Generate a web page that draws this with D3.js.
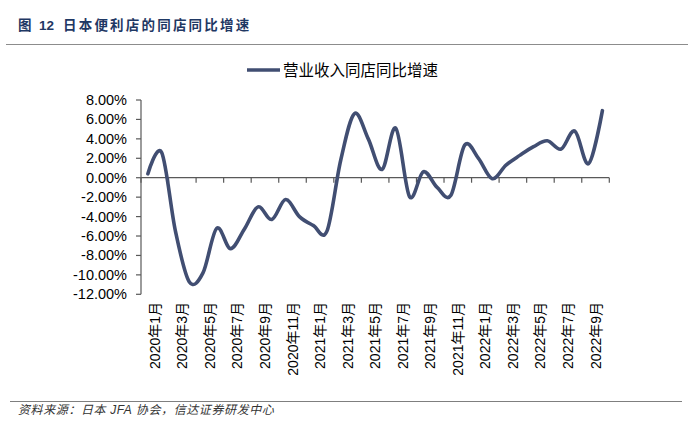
<!DOCTYPE html>
<html>
<head>
<meta charset="utf-8">
<script src="https://cdn.jsdelivr.net/npm/d3@7/dist/d3.min.js"></script>
<style>
  body { margin: 0; background: #fff; }
  svg { display: block; }
  text { font-family: "Liberation Sans", Arial, "Noto Sans CJK SC", sans-serif; }
</style>
</head>
<body>
<svg id="chart" width="694" height="434"></svg>
<script>
// months 2020-01 .. 2022-10
var months = [];
[2020, 2021, 2022].forEach(function (y) {
    for (var m = 1; m <= 12; m++) {
        if (y === 2022 && m > 10) { break; }
        months.push(y + "年" + m + "月");
    }
});

// 营业收入同店同比增速 (%)
var growth = [
    0.4, 2.6, -5.5, -10.7, -9.8, -5.2, -7.3, -5.3, -3.0, -4.3, -2.25, -4.0,
    -4.9, -5.5, 1.8, 6.6, 4.0, 0.85, 5.1, -1.95, 0.62, -1.0, -1.8, 3.35,
    2.0, -0.1, 1.3, 2.3, 3.2, 3.8, 2.95, 4.8, 1.45, 6.9
];

var yTicks = [8, 6, 4, 2, 0, -2, -4, -6, -8, -10, -12];
var seriesName = "营业收入同店同比增速";
var title = "日本便利店的同店同比增速";
var source = "资料来源：日本 JFA 协会，信达证券研发中心";

var svg = d3.select("#chart");
var lineColor = "#414e72";
var axisColor = "#595959";

// header
svg.append("text")
    .attr("x", 18).attr("y", 30)
    .attr("font-size", 13.5).attr("font-weight", "bold")
    .attr("fill", "#1f3864")
    .text("图");
svg.append("text")
    .attr("x", 39).attr("y", 30)
    .attr("font-size", 13.5).attr("font-weight", "bold")
    .attr("fill", "#1f3864")
    .text("12");
svg.append("text")
    .attr("x", 63).attr("y", 30)
    .attr("font-size", 13.5).attr("font-weight", "bold")
    .attr("fill", "#1f3864")
    .attr("letter-spacing", 2.2)
    .text(title);
svg.append("line")
    .attr("x1", 6).attr("x2", 688).attr("y1", 44.5).attr("y2", 44.5)
    .attr("stroke", "#8c8c8c").attr("stroke-width", 1);

// footer
svg.append("line")
    .attr("x1", 10).attr("x2", 682).attr("y1", 401.5).attr("y2", 401.5)
    .attr("stroke", "#7f7f7f").attr("stroke-width", 1.2);
svg.append("text")
    .attr("x", 18).attr("y", 414)
    .attr("font-size", 12).attr("font-style", "italic")
    .attr("letter-spacing", 0.6)
    .attr("fill", "#333")
    .text(source);

// scales
var x = d3.scaleBand().domain(months).range([141, 609.3]);
var y = d3.scaleLinear().domain([-12, 8]).range([294.3, 100]);
var cx = function (d, i) { return x(months[i]) + x.bandwidth() / 2; };

// y axis
var yAxis = svg.append("g");
yAxis.append("line")
    .attr("x1", 141).attr("x2", 141)
    .attr("y1", y(8)).attr("y2", y(-12))
    .attr("stroke", axisColor).attr("stroke-width", 1.2);
yAxis.selectAll("line.tick").data(yTicks).enter().append("line")
    .attr("class", "tick")
    .attr("x1", 136).attr("x2", 141)
    .attr("y1", function (d) { return y(d); })
    .attr("y2", function (d) { return y(d); })
    .attr("stroke", axisColor).attr("stroke-width", 1.2);
yAxis.selectAll("text").data(yTicks).enter().append("text")
    .attr("x", 127)
    .attr("y", function (d) { return y(d) + 5; })
    .attr("text-anchor", "end")
    .attr("font-size", 14.5)
    .attr("fill", "#000")
    .text(function (d) { return d.toFixed(2) + "%"; });

// x axis at zero
var xAxis = svg.append("g");
xAxis.append("line")
    .attr("x1", 141).attr("x2", 609.3)
    .attr("y1", y(0)).attr("y2", y(0))
    .attr("stroke", axisColor).attr("stroke-width", 1.2);
var tickIdx = months.map(function (d, i) { return i; }).filter(function (i) { return i % 2 === 0; });
xAxis.selectAll("line.tick").data(tickIdx.concat([months.length])).enter().append("line")
    .attr("class", "tick")
    .attr("x1", function (i) { return i < months.length ? x(months[i]) : x.range()[1]; })
    .attr("x2", function (i) { return i < months.length ? x(months[i]) : x.range()[1]; })
    .attr("y1", y(0)).attr("y2", y(0) + 5)
    .attr("stroke", axisColor).attr("stroke-width", 1.2);

// category labels, one per two months, centred on the pair
svg.append("g").selectAll("text").data(tickIdx.filter(function (i) { return i < 33; })).enter().append("text")
    .attr("transform", function (i) {
        var px = x(months[i]) + x.bandwidth() + 5;
        return "translate(" + px + ",302) rotate(-90)";
    })
    .attr("text-anchor", "end")
    .attr("font-size", 14)
    .attr("fill", "#000")
    .text(function (i) { return months[i]; });

// series line
var line = d3.line()
    .x(cx)
    .y(function (d) { return y(d); })
    .curve(d3.curveCardinal.tension(0));
svg.append("path")
    .datum(growth)
    .attr("d", line)
    .attr("fill", "none")
    .attr("stroke", lineColor)
    .attr("stroke-width", 3.6)
    .attr("stroke-linejoin", "round")
    .attr("stroke-linecap", "round");

// legend
svg.append("line")
    .attr("x1", 247).attr("x2", 280).attr("y1", 70).attr("y2", 70)
    .attr("stroke", lineColor).attr("stroke-width", 3.6);
svg.append("text")
    .attr("x", 283).attr("y", 76)
    .attr("font-size", 15.5)
    .attr("fill", "#000")
    .text(seriesName);
</script>
</body>
</html>
